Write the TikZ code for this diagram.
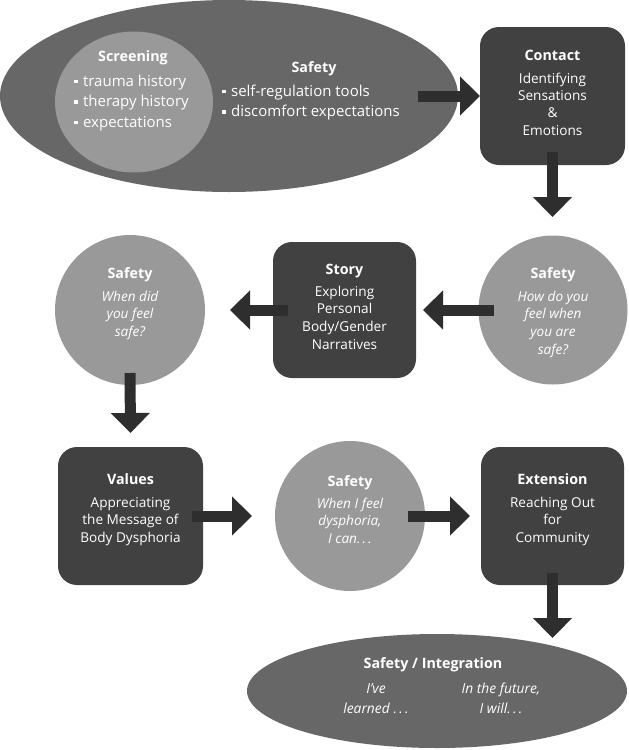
\documentclass[tikz,border=0pt]{standalone}
\usepackage{fontspec}
\setmainfont{Open Sans}
\usetikzlibrary{shapes.geometric,arrows.meta,calc}
\definecolor{ellgray}{HTML}{676767}
\definecolor{circgray}{HTML}{999999}
\definecolor{boxgray}{HTML}{414141}
\definecolor{arrowgray}{HTML}{2E2E2E}
\newcommand\sqb{\raisebox{0.2em}{\rule{3.4pt}{3.4pt}}\hspace{5.5pt}}
\newcommand\cstack[1]{\begin{tabular}[t]{@{}c@{}}#1\end{tabular}}
\newcommand\lstack[1]{\begin{tabular}[t]{@{}l@{}}#1\end{tabular}}
\tikzset{
  bigell/.style={ellipse, fill=ellgray, inner sep=0pt, outer sep=0pt},
  scrcirc/.style={ellipse, fill=circgray, inner sep=0pt, outer sep=0pt},
  circ/.style={ellipse, fill=circgray, inner sep=0pt, outer sep=0pt, minimum width=150pt, minimum height=150pt},
  stepbox/.style={rectangle, rounded corners=19pt, fill=boxgray, minimum width=145pt, minimum height=138pt, inner sep=0pt, outer sep=0pt},
  flow/.style={draw=arrowgray, line width=11pt, -{Triangle[width=38pt,length=20pt]}},
  ttl/.style={anchor=base, text=white, inner sep=0pt, font=\fontsize{14.3}{17}\selectfont\bfseries},
  body/.style={anchor=base, text=white, inner sep=0pt, font=\fontsize{13.6}{17.8}\selectfont},
  ibody/.style={anchor=base, text=white, inner sep=0pt, font=\fontsize{13.6}{17.8}\selectfont\itshape},
  bullets/.style={anchor=base west, text=white, inner sep=0pt, font=\fontsize{15}{20.7}\selectfont},
  endbody/.style={anchor=base, text=white, inner sep=0pt, font=\fontsize{13.8}{20}\selectfont\itshape},
}
\begin{document}
\begin{tikzpicture}[x=1pt,y=-1pt]
\useasboundingbox (0,0) rectangle (629,750);
\fill[white] (0,0) rectangle (629,750);

% shapes
\node[bigell, minimum width=458pt, minimum height=192pt] (topell) at (229,96) {};
\node[scrcirc, minimum width=158pt, minimum height=141pt] (screen) at (134,102) {};
\node[stepbox] (contact) at (552.5,96) {};
\node[circ, minimum width=149pt, minimum height=149pt] (rsafe) at (553,310) {};
\node[stepbox, minimum width=143pt, minimum height=136pt] (story) at (344.5,310) {};
\node[circ] (lsafe) at (130,310) {};
\node[stepbox] (values) at (130.5,516) {};
\node[circ] (msafe) at (350,516) {};
\node[stepbox, minimum width=143pt] (ext) at (552.5,516) {};
\node[bigell, minimum width=380pt, minimum height=114pt] (botell) at (437,691) {};

% connectors
\draw[flow] ($(topell.east)+(-40,0)$) -- (contact.west);
\coordinate (c2end) at ($(contact.south)+(0,52)$);
\draw[flow] ($(contact.south)+(0,-13)$) -- (c2end);
\draw[flow] ($(rsafe.west)+(15,0)$) -- ($(story.east)+(7,0)$);
\draw[flow] ($(story.west)+(15,0)$) -- ($(lsafe.east)+(25,0)$);
\draw[flow] ($(lsafe.south)+(0,-12)$) -- ($(values.north)+(0,-14)$);
\draw[flow] ($(values.east)+(-11,0)$) -- ($(msafe.west)+(-23,0)$);
\draw[flow] ($(msafe.east)+(-17,0)$) -- ($(ext.west)+(-11,0)$);
\coordinate (e2end) at ($(ext.south)+(0,53)$);
\draw[flow] ($(ext.south)+(0,-12)$) -- (e2end);

% texts
\node[ttl] (scrT) at (133,61) {Screening};
\node[bullets] (scrB) at (74,86) {\lstack{\sqb trauma history\\ \sqb therapy history\\ \sqb expectations}};
\node[ttl] (safT) at (314,72) {Safety};
\node[bullets] (safB) at (222,96) {\lstack{\sqb self-regulation tools\\ \sqb discomfort expectations}};

\node[ttl] (conT) at (552.5,60) {Contact};
\node[body, font=\fontsize{13.6}{17.4}\selectfont] (conB) at (552.5,83) {\cstack{Identifying\\Sensations\\\&\\Emotions}};

\node[ttl] (stoT) at (344.5,274) {Story};
\node[body] (stoB) at (344.5,296) {\cstack{Exploring\\Personal\\Body/Gender\\Narratives}};

\node[ttl] (lsT) at (130,278) {Safety};
\node[ibody] (lsB) at (130,301) {\cstack{When did\\you feel\\safe?}};

\node[ttl] (rsT) at (553,278) {Safety};
\node[ibody] (rsB) at (553,301) {\cstack{How do you\\feel when\\you are\\safe?}};

\node[ttl] (valT) at (130.5,484) {Values};
\node[body] (valB) at (130.5,507) {\cstack{Appreciating\\the Message of\\Body Dysphoria}};

\node[ttl] (msT) at (350,486) {Safety};
\node[ibody] (msB) at (350,508) {\cstack{When I feel\\dysphoria,\\I can.\,.\,.}};

\node[ttl] (extT) at (552.5,484) {Extension};
\node[body] (extB) at (552.5,507) {\cstack{Reaching Out\\for\\Community}};

\node[ttl] (botT) at (433,668) {Safety / Integration};
\node[endbody] (botL) at (376,693) {\cstack{I’ve\\learned\;.\,.\,.}};
\node[endbody] (botR) at (501,693) {\cstack{In the future,\\I will.\,.\,.}};
\end{tikzpicture}
\end{document}
